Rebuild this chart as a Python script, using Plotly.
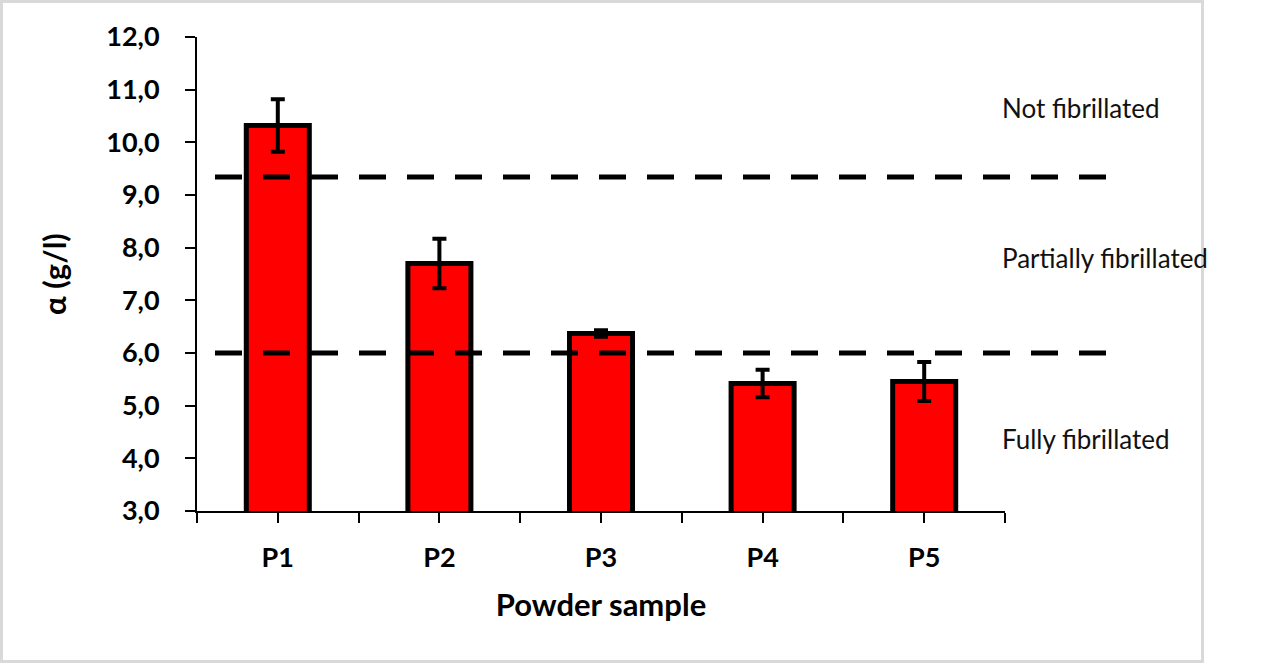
import plotly.graph_objects as go

categories = ["P1", "P2", "P3", "P4", "P5"]
alpha_values = [10.32, 7.70, 6.37, 5.42, 5.46]
alpha_errors = [0.50, 0.47, 0.06, 0.26, 0.37]
threshold_values = [9.34, 6.0]
zone_labels = ["Not fibrillated", "Partially fibrillated", "Fully fibrillated"]
zone_label_y = [10.65, 7.80, 4.37]
y_ticks = [3, 4, 5, 6, 7, 8, 9, 10, 11, 12]
y_tick_text = [f"{v:.1f}".replace(".", ",") for v in y_ticks]

W, H = 1276, 664
L, R, T, B = 197, 1005, 37, 511
pw, ph = R - L, B - T

xpos = list(range(len(categories)))
tickvals = []
ticktext = []
for i, c in enumerate(categories):
    tickvals += [i - 0.5, i]
    ticktext += ["", c]
tickvals.append(len(categories) - 0.5)
ticktext.append("")

fig = go.Figure()
fig.add_trace(go.Bar(
    x=xpos, y=alpha_values, width=0.39,
    marker=dict(color="#FF0000", line=dict(color="black", width=5)),
    error_y=dict(type="data", array=alpha_errors, visible=True,
                 color="black", thickness=4, width=7),
    showlegend=False,
))

for v in threshold_values:
    fig.add_shape(type="line", xref="paper", yref="y",
                  x0=(215 - L) / pw, x1=(1106 - L) / pw, y0=v, y1=v,
                  line=dict(color="black", width=5, dash="27px,21px"),
                  layer="above")

for txt, yy in zip(zone_labels, zone_label_y):
    fig.add_annotation(text=txt, xref="paper", yref="y",
                       x=(1000 - L) / pw, y=yy, xanchor="left", yanchor="middle",
                       showarrow=False,
                       font=dict(family="Lato", size=26, color="#111111"))

# outer frame
fig.add_shape(type="rect", xref="paper", yref="paper",
              x0=(1.5 - L) / pw, x1=(1202.5 - L) / pw,
              y0=(B - 661.5) / ph, y1=(B - 1.5) / ph,
              line=dict(color="#D9D9D9", width=3), layer="below")

fig.update_layout(
    width=W, height=H,
    margin=dict(l=L, r=W - R, t=T, b=H - B, pad=0),
    paper_bgcolor="white", plot_bgcolor="white",
    font=dict(family="Lato", color="black"),
    bargap=0.6,
)
fig.update_xaxes(
    range=[-0.5, len(categories) - 0.5],
    tickmode="array", tickvals=tickvals, ticktext=ticktext,
    ticks="outside", ticklen=10, tickwidth=2, tickcolor="black",
    showline=True, linecolor="black", linewidth=2,
    showgrid=False, zeroline=False,
    tickfont=dict(family="Lato", size=27, color="black", weight="bold"),
    ticklabelstandoff=12,
    title=dict(text="<b>Powder sample</b>", font=dict(family="Lato", size=31), standoff=22),
)
fig.update_yaxes(
    range=[3, 12],
    tickmode="array", tickvals=y_ticks, ticktext=y_tick_text,
    ticks="outside", ticklen=10, tickwidth=2, tickcolor="black",
    showline=True, linecolor="black", linewidth=2,
    showgrid=False, zeroline=False,
    tickfont=dict(family="Lato", size=27, color="black", weight="bold"),
    ticklabelstandoff=20,
    title=dict(text="<b>α (g/l)</b>", font=dict(family="Lato", size=31), standoff=30),
)

fig.write_html("out.html")
